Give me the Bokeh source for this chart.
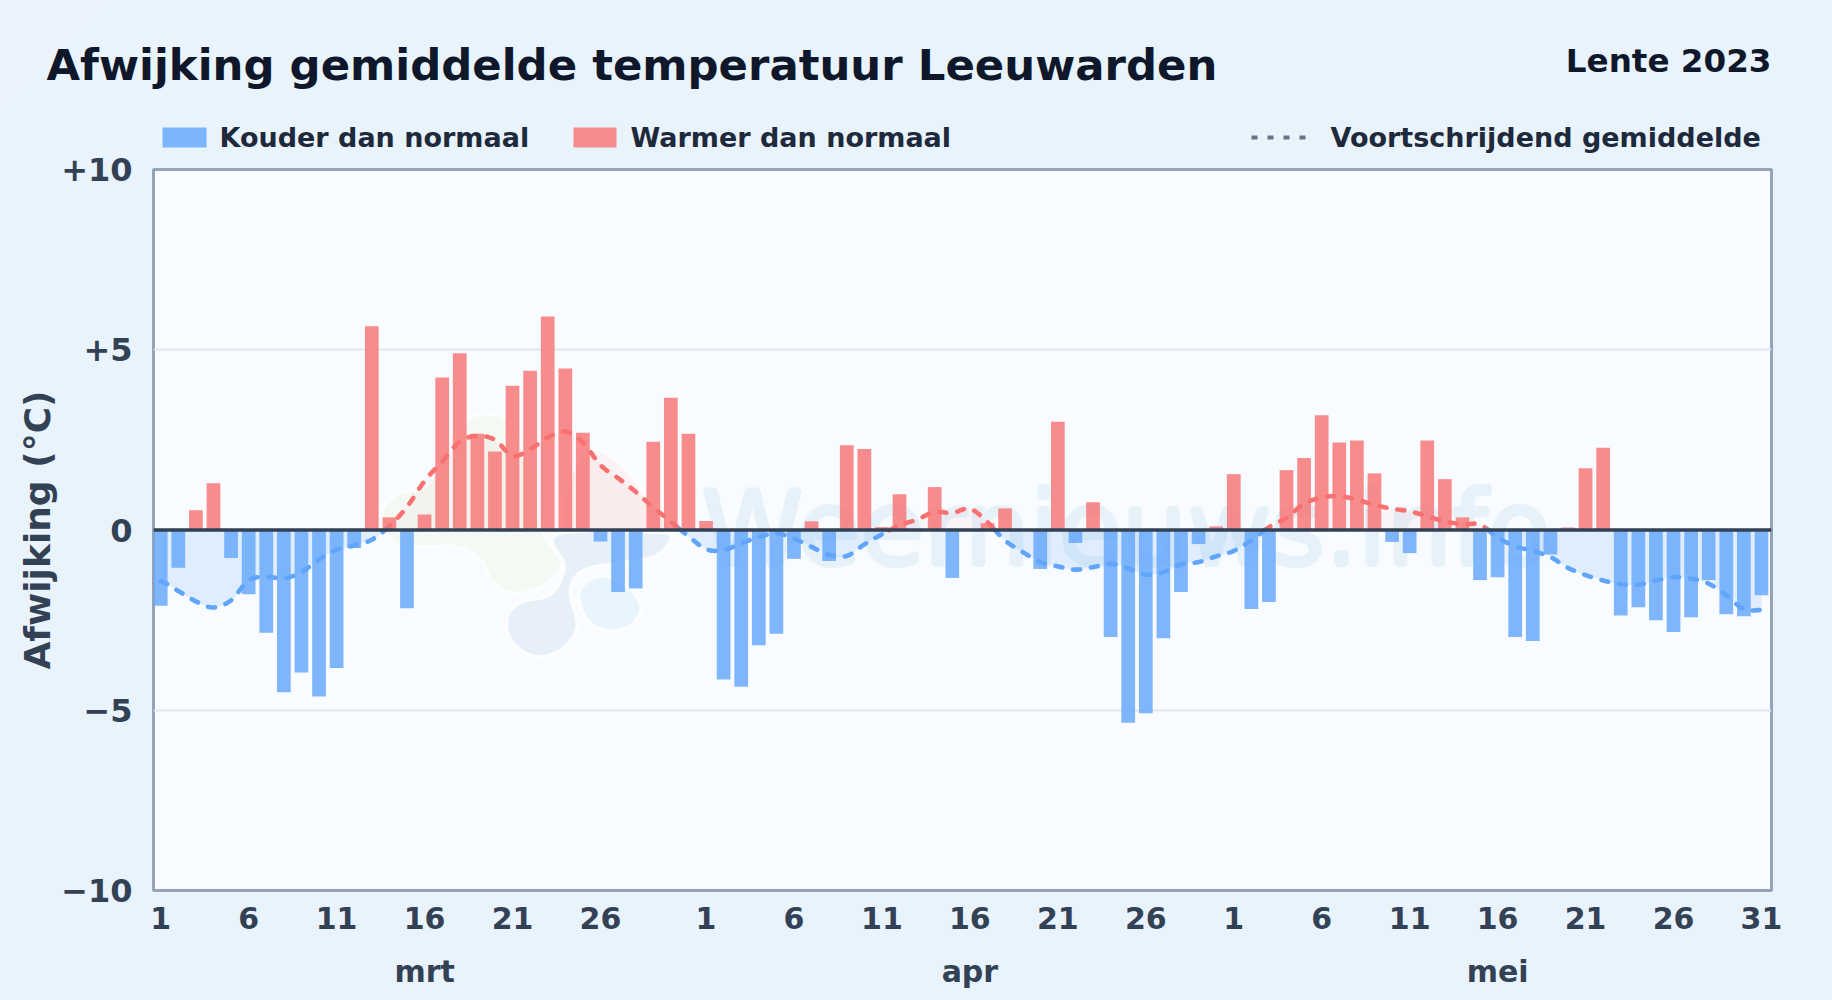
from bokeh.embed import file_html
from bokeh.resources import INLINE
from bokeh.plotting import figure
from bokeh.models import (ColumnDataSource, FixedTicker, LinearAxis, Range1d, Span,
                          GlobalInlineStyleSheet)
from bokeh.core.properties import value
import numpy as np

TITLE = "Afwijking gemiddelde temperatuur Leeuwarden"
PERIOD = "Lente 2023"
LEGEND_COLD = "Kouder dan normaal"
LEGEND_WARM = "Warmer dan normaal"
LEGEND_AVG = "Voortschrijdend gemiddelde"
Y_LABEL = "Afwijking (°C)"
WATERMARK = "Weernieuws.info"

maart = [-2.1, -1.05, 0.55, 1.3, -0.78, -1.78, -2.85, -4.5, -3.95, -4.62, -3.83, -0.5, 5.65, 0.35, -2.17, 0.43,
         4.23, 4.9, 2.67, 2.18, 4.0, 4.42, 5.92, 4.48, 2.7, -0.32, -1.72, -1.62, 2.45, 3.67, 2.67]
april = [0.25, -4.15, -4.35, -3.2, -2.88, -0.8, 0.24, -0.86, 2.35, 2.25, 0.08, 0.99, 0.0, 1.19, -1.33, 0.0,
         0.19, 0.6, 0.0, -1.08, 3.0, -0.36, 0.77, -2.97, -5.35, -5.08, -3.0, -1.72, -0.39, 0.1]
mei = [1.55, -2.19, -2.0, 1.66, 2.0, 3.18, 2.43, 2.48, 1.57, -0.33, -0.64, 2.48, 1.41, 0.35, -1.39, -1.31,
       -2.97, -3.08, -0.68, 0.07, 1.71, 2.28, -2.37, -2.14, -2.5, -2.83, -2.42, -1.39, -2.34, -2.39, -1.81]

gemiddelde = [-1.42, -1.69, -1.98, -2.15, -1.95, -1.40, -1.30, -1.34, -1.17, -0.82, -0.55, -0.43, -0.27, 0.11, 0.64, 1.36,
              1.9, 2.45, 2.61, 2.5, 2.06, 2.24, 2.57, 2.73, 2.43, 1.8, 1.44, 1.06, 0.63, 0.23, -0.17,
              -0.53, -0.56, -0.37, -0.2, -0.09, -0.24, -0.47, -0.69, -0.72, -0.4, -0.12, 0.13, 0.29, 0.5, 0.47, 0.59,
              0.22, -0.29, -0.61, -0.89, -1.01, -1.1, -1.03, -0.94, -1.07, -1.24, -1.17, -0.95, -0.89, -0.73,
              -0.58, -0.29, 0.08, 0.34, 0.73, 0.9, 0.94, 0.84, 0.7, 0.59, 0.52, 0.38, 0.24, 0.16, 0.15, -0.21,
              -0.45, -0.58, -0.75, -1.05, -1.25, -1.4, -1.5, -1.52, -1.4, -1.31, -1.35, -1.49, -1.81, -2.2, -2.22]

day_ticks = [0, 5, 10, 15, 20, 25, 31, 36, 41, 46, 51, 56, 61, 66, 71, 76, 81, 86, 91]
day_labels = ["1", "6", "11", "16", "21", "26", "1", "6", "11", "16", "21", "26", "1", "6", "11", "16", "21", "26", "31"]
month_ticks = [15, 46, 76]
month_labels = ["mrt", "apr", "mei"]
y_ticks = [-10, -5, 0, 5, 10]
y_labels = ["−10", "−5", "0", "+5", "+10"]

BLUE, RED = "#60a5fa", "#f87171"
FONT = "DejaVu Sans"

values = np.array(maart + april + mei, float)
days = np.arange(len(values))
avg = np.array(gemiddelde, float)

# frame geometry
L, R, T, B = 153, 1771, 169, 890
XMIN, XMAX = -0.41, 91.57
def X(px): return XMIN + (np.asarray(px, float) - L) / (R - L) * (XMAX - XMIN)
def Y(py): return 10 - (np.asarray(py, float) - T) / (B - T) * 20

p = figure(width=1832, height=1000, output_backend="svg", toolbar_location=None,
           x_range=Range1d(XMIN, XMAX), y_range=Range1d(-10, 10),
           min_border_left=L, min_border_right=1832 - R, min_border_top=T, min_border_bottom=1000 - B,
           background_fill_color="#f8fbff", border_fill_color=None,
           outline_line_color="#94a3b8", outline_line_width=3)
p.stylesheets = [GlobalInlineStyleSheet(css="html,body{margin:0;padding:0;background:linear-gradient(135deg,#ebf4fc 0%,#e8f3fc 25%,#e8f3fc 100%);}")]

# smooth curve (Catmull-Rom) through the daily running mean values
def smooth(x, y, n=12):
    xs, ys = [], []
    for i in range(len(x) - 1):
        p0, p1, p2, p3 = y[max(i - 1, 0)], y[i], y[i + 1], y[min(i + 2, len(y) - 1)]
        for t in np.linspace(0, 1, n, endpoint=False):
            xs.append(x[i] + t * (x[i + 1] - x[i]))
            ys.append(0.5 * (2 * p1 + (p2 - p0) * t + (2 * p0 - 5 * p1 + 4 * p2 - p3) * t**2 + (3 * p1 - p0 - 3 * p2 + p3) * t**3))
    xs.append(x[-1]); ys.append(y[-1])
    return np.array(xs), np.array(ys)

sx, sy = smooth(days.astype(float), avg)

# watermark blobs, outlines in page pixels
def blob(pts, color):
    pts = np.array(pts + pts[:3], float)
    t = np.arange(len(pts), dtype=float)
    k = 8
    bx = smooth(t, pts[:, 0], k)[1][k:-k]
    by = smooth(t, pts[:, 1], k)[1][k:-k]
    p.patch(X(300 + bx / 3), Y(350 + by / 3), fill_color=color, line_color="#fbfdff", line_width=4)

blob([(245,480),(300,425),(370,410),(440,320),(500,210),(560,190),(620,210),(670,300),(700,420),(730,550),(785,640),(740,700),(650,730),(580,700),(540,630),(470,590),(350,590),(270,570)], "#f4f9f3")
blob([(870,300),(960,340),(1040,440),(1110,540),(1090,600),(960,640),(800,560),(800,400)], "#faf2f4")
blob([(770,550),(1080,545),(1110,570),(1060,620),(950,640),(850,660),(810,720),(830,830),(780,900),(700,918),(630,870),(620,800),(660,755),(750,730),(790,650)], "#e7f0f9")
blob([(835,730),(880,680),(960,690),(1020,760),(1000,820),(930,842),(860,810)], "#e9f5fd")

wm_x = [X(701 + d) for d in (-2, 0, 2, 0)]
wm_y = [Y(528 + d) for d in (0, -2, 0, 2)]
p.text(wm_x, wm_y, text=[WATERMARK] * 4, text_font=value(FONT), text_font_size="103px",
       text_color="#e7f1fa", text_baseline="alphabetic", text_align="left")

# area between running mean and zero
p.varea(sx, np.minimum(sy, 0), 0, fill_color=BLUE, fill_alpha=0.16)
p.varea(sx, 0, np.maximum(sy, 0), fill_color=RED, fill_alpha=0.05)

# running mean split at zero, under the bars
def segments(x, y, sign):
    xs, ys = np.array(x), np.array(y) * sign
    mask = ys >= 0
    out = []
    i = 0
    while i < len(xs):
        if mask[i]:
            j = i
            while j + 1 < len(xs) and mask[j + 1]:
                j += 1
            a = max(i - 1, 0); b = min(j + 1, len(xs) - 1)
            out.append((xs[a:b + 1], y[a:b + 1]))
            i = j + 1
        else:
            i += 1
    return out

for color, sign in ((RED, 1), (BLUE, -1)):
    for seg_x, seg_y in segments(sx, sy, sign):
        p.line(seg_x, seg_y, line_color=color, line_width=4.6, line_dash="7 11", line_cap="round")

# bars
neg = values < 0
pos = values > 0
p.vbar(days[neg], width=0.78, top=0, bottom=values[neg], fill_color=BLUE, fill_alpha=0.8, line_color=None)
p.vbar(days[pos], width=0.78, top=values[pos], bottom=0, fill_color=RED, fill_alpha=0.8, line_color=None)

p.add_layout(Span(location=0, dimension="width", line_color="#334155", line_width=3.4))

# axes
p.xgrid.visible = False
p.ygrid.ticker = FixedTicker(ticks=[-5, 5])
p.ygrid.grid_line_color = "#e2e8f0"
p.ygrid.grid_line_width = 1.8

ax = p.xaxis[0]
ax.ticker = FixedTicker(ticks=day_ticks)
ax.major_label_overrides = dict(zip(day_ticks, day_labels))
ax2 = LinearAxis(ticker=FixedTicker(ticks=month_ticks), major_label_overrides=dict(zip(month_ticks, month_labels)))
p.add_layout(ax2, "below")
ay = p.yaxis[0]
ay.ticker = FixedTicker(ticks=y_ticks)
ay.major_label_overrides = dict(zip(y_ticks, y_labels))
ay.axis_label = Y_LABEL
ay.axis_label_text_font = FONT
ay.axis_label_text_font_style = "bold"
ay.axis_label_text_font_size = "36px"
ay.axis_label_text_color = "#334155"
ay.axis_label_standoff = 0
for a in (ax, ax2, ay):
    a.axis_line_color = None
    a.major_tick_line_color = None
    a.minor_tick_line_color = None
    a.major_label_text_font = FONT
    a.major_label_text_font_style = "bold"
    a.major_label_text_font_size = "30px"
    a.major_label_text_color = "#334155"
ay.major_label_text_font_size = "32px"
ax.major_label_standoff = 10
ax2.major_label_standoff = 16
ay.major_label_standoff = 15

def text(px, py, s, size, color, align="left"):
    p.text([X(px)], [Y(py)], text=[s], text_font=value(FONT), text_font_style="bold", text_font_size=size,
           text_color=color, text_align=align, text_baseline="middle", level="overlay")

text(46, 64, TITLE, "43.4px", "#0f172a")
text(1771, 60, PERIOD, "32.6px", "#0f172a", "right")
text(219, 136.5, LEGEND_COLD, "27px", "#1e293b")
text(630, 136.5, LEGEND_WARM, "27px", "#1e293b")
text(1330, 136.5, LEGEND_AVG, "27px", "#1e293b")

def swatch(px0, px1, color):
    p.quad(left=[X(px0)], right=[X(px1)], top=[Y(127)], bottom=[Y(147)], fill_color=color, fill_alpha=0.8,
           line_color=None, level="overlay")

swatch(162, 206, BLUE)
swatch(573, 616, RED)

leg = ColumnDataSource(dict(x0=[X(1251)], x1=[X(1310)], y0=[Y(137)], y1=[Y(137)]))
p.segment("x0", "y0", "x1", "y1", source=leg, line_color="#64748b", line_width=4, line_dash="6 10", level="overlay")

open("out.html", "w").write(file_html(p, INLINE))
